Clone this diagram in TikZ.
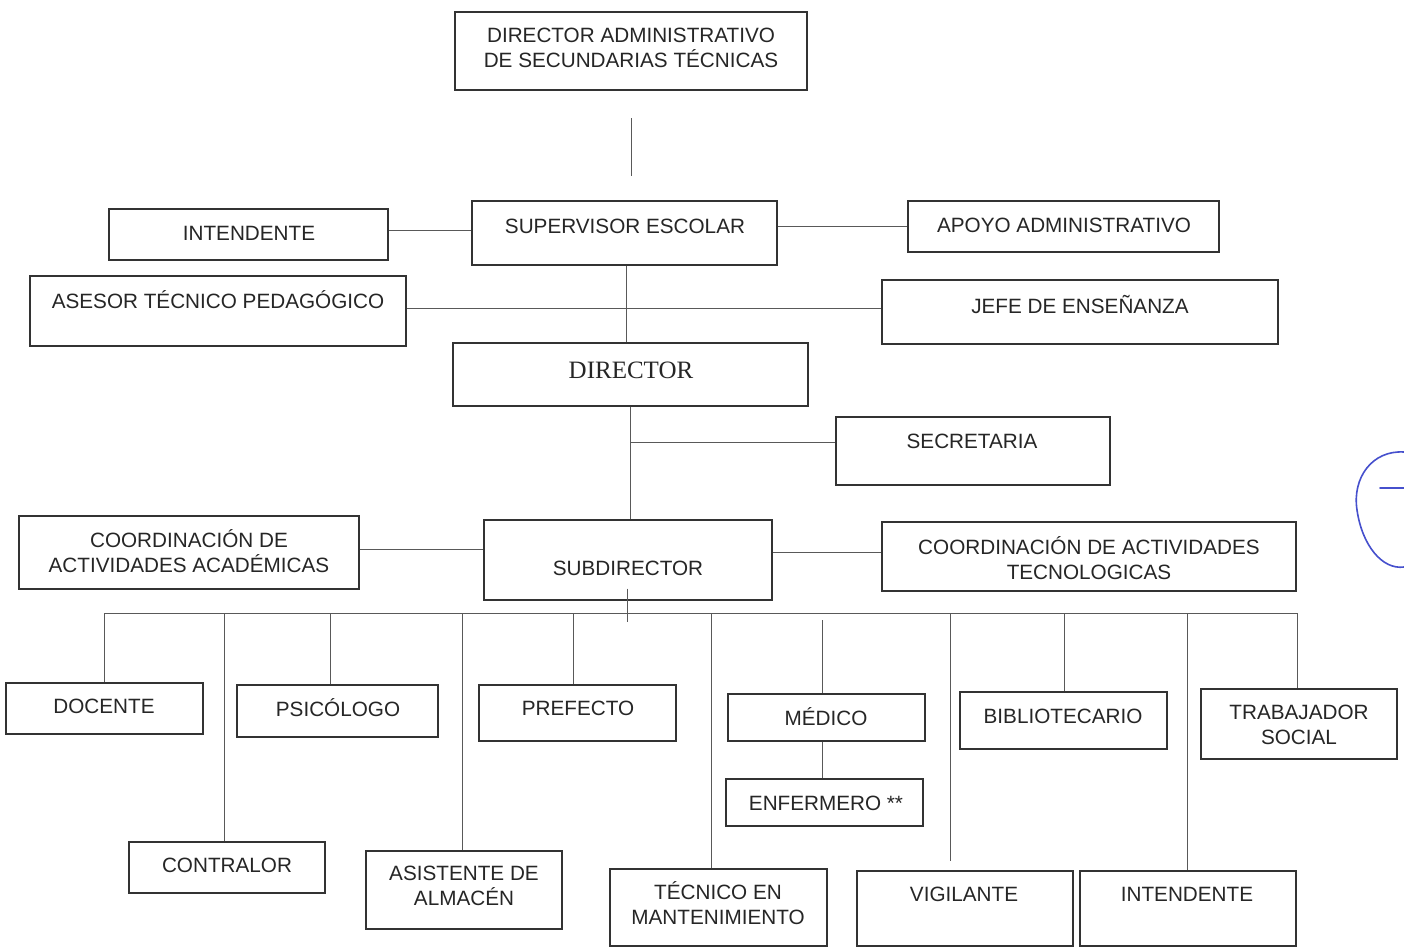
\documentclass[tikz,border=0pt]{standalone}
\usepackage{fontspec}
\setmainfont{Liberation Sans}
\newfontfamily\dirserif{Liberation Serif}
\definecolor{inkblue}{RGB}{70,80,205}
\tikzset{
  box/.style={draw=black!80, line width=1.3pt, rectangle, inner sep=0pt},
  lbl/.style={text=black!85, font=\fontsize{20.7}{25}\selectfont, align=center, inner sep=0pt},
  conn/.style={draw=black!65, line width=0.9pt},
  pen/.style={draw=inkblue, line width=1.6pt, line cap=round}
}
\newcommand\bx[5]{\node[box, minimum width={(#4-#2)*1pt}, minimum height={(#5-#3)*1pt}] (#1) at ({(#2+#4)/2},{(#3+#5)/2}) {};}
\begin{document}
\begin{tikzpicture}[x=1pt,y=-1pt]
\fill[white] (0,0) rectangle (1404,948);
\useasboundingbox (0,0) rectangle (1404,948);

% boxes
\bx{dira}{455}{12}{807}{90}
\bx{int1}{109}{209}{388}{260}
\bx{sup}{472}{201}{777}{265}
\bx{apoyo}{908}{201}{1219}{252}
\bx{asesor}{30}{276}{406}{346}
\bx{jefe}{882}{280}{1278}{344}
\bx{dir}{453}{343}{808}{406}
\bx{sec}{836}{417}{1110}{485}
\bx{acad}{19}{516}{359}{589}
\bx{sub}{484}{520}{772}{600}
\bx{tec}{882}{522}{1296}{591}
\bx{doc}{6}{683}{203}{734}
\bx{con}{129}{842}{325}{893}
\bx{psi}{237}{685}{438}{737}
\bx{alm}{366}{851}{562}{929}
\bx{pre}{479}{685}{676}{741}
\bx{tm}{610}{869}{827}{946}
\bx{med}{728}{694}{925}{741}
\bx{enf}{726}{779}{923}{826}
\bx{vig}{857}{871}{1073}{946}
\bx{int2}{1080}{871}{1296}{946}
\bx{bib}{960}{692}{1167}{749}
\bx{trab}{1201}{689}{1397}{759}

% labels
\node[lbl] (t-dira) at (631,47.5) {DIRECTOR ADMINISTRATIVO\\DE SECUNDARIAS TÉCNICAS};
\node[lbl] (t-int1) at (249,233) {INTENDENTE};
\node[lbl] (t-sup) at (625,226) {SUPERVISOR ESCOLAR};
\node[lbl] (t-apoyo) at (1064,225) {APOYO ADMINISTRATIVO};
\node[lbl] (t-asesor) at (218,300) {ASESOR TÉCNICO PEDAGÓGICO};
\node[lbl] (t-jefe) at (1080,305) {JEFE DE ENSEÑANZA};
\node[lbl, font=\dirserif\fontsize{25}{30}\selectfont] (t-dir) at (631,370) {DIRECTOR};
\node[lbl] (t-sec) at (972,441) {SECRETARIA};
\node[lbl] (t-acad) at (189,551.5) {COORDINACIÓN DE\\ACTIVIDADES ACADÉMICAS};
\node[lbl] (t-sub) at (628,568) {SUBDIRECTOR};
\node[lbl] (t-tec) at (1089,558) {COORDINACIÓN DE ACTIVIDADES\\TECNOLOGICAS};
\node[lbl] (t-doc) at (104,706) {DOCENTE};
\node[lbl] (t-con) at (227,865) {CONTRALOR};
\node[lbl] (t-psi) at (338,708) {PSICÓLOGO};
\node[lbl] (t-alm) at (464,886) {ASISTENTE DE\\ALMACÉN};
\node[lbl] (t-pre) at (578,708) {PREFECTO};
\node[lbl] (t-tm) at (718,903.5) {TÉCNICO EN\\MANTENIMIENTO};
\node[lbl] (t-med) at (826,717) {MÉDICO};
\node[lbl] (t-enf) at (826,803) {ENFERMERO **};
\node[lbl] (t-vig) at (964,894) {VIGILANTE};
\node[lbl] (t-int2) at (1187,894) {INTENDENTE};
\node[lbl] (t-bib) at (1063,716) {BIBLIOTECARIO};
\node[lbl] (t-trab) at (1299,724.5) {TRABAJADOR\\SOCIAL};

% connectors
\coordinate (ta) at (631,118);
\coordinate (tb) at (631,176);
\draw[conn] (ta) -- (tb);
\draw[conn] ([yshift=4.5pt]int1.east) -- ([yshift=4.5pt]int1.east -| sup.west);
\draw[conn] (apoyo.west -| sup.east) -- (apoyo.west);
\draw[conn] ([yshift=3pt]asesor.east) -- ([yshift=3pt]asesor.east -| jefe.west);
\draw[conn] ([xshift=1.5pt]sup.south) -- ([xshift=1.5pt]sup.south |- dir.north);
\draw[conn] (dir.south) -- (dir.south |- sub.north);
\coordinate (secj) at (630,442);
\draw[conn] (secj) -- (secj -| sec.west);
\draw[conn] ([yshift=3.5pt]acad.east) -- ([yshift=3.5pt]acad.east -| sub.west);
\draw[conn] ([yshift=4.5pt]tec.west -| sub.east) -- ([yshift=4.5pt]tec.west);
\coordinate (bus) at (627,613);
\draw[conn] ([xshift=-1pt,yshift=12pt]sub.south) -- ([xshift=-1pt,yshift=-9pt]sub.south |- bus);
\draw[conn] (doc.north |- bus) -- ([xshift=-2pt]trab.north |- bus);
\draw[conn] (doc.north |- bus) -- (doc.north);
\draw[conn] ([xshift=-3pt]con.north |- bus) -- ([xshift=-3pt]con.north);
\draw[conn] ([xshift=-7.5pt]psi.north |- bus) -- ([xshift=-7.5pt]psi.north);
\draw[conn] ([xshift=-2pt]alm.north |- bus) -- ([xshift=-2pt]alm.north);
\draw[conn] ([xshift=-4.5pt]pre.north |- bus) -- ([xshift=-4.5pt]pre.north);
\draw[conn] ([xshift=-7.5pt]tm.north |- bus) -- ([xshift=-7.5pt]tm.north);
\draw[conn] ([xshift=-4.5pt,yshift=-7pt]med.north |- bus) -- ([xshift=-4.5pt]med.north);
\draw[conn] ([xshift=-4.5pt]med.south) -- ([xshift=-4.5pt]med.south |- enf.north);
\draw[conn] ([xshift=-15pt]vig.north |- bus) -- ([xshift=-15pt,yshift=9pt]vig.north);
\draw[conn] ([xshift=-1pt]int2.north |- bus) -- ([xshift=-1pt]int2.north);
\draw[conn] ([xshift=0.5pt]bib.north |- bus) -- ([xshift=0.5pt]bib.north);
\draw[conn] ([xshift=-2pt]trab.north |- bus) -- ([xshift=-2pt]trab.north);

% blue pen mark at the right edge
\draw[pen] (1404,452) .. controls (1372,450) and (1352,478) .. (1357,510)
  .. controls (1362,545) and (1382,570) .. (1404,567);
\draw[pen] (1380,488) -- (1404,488);
\end{tikzpicture}
\end{document}
